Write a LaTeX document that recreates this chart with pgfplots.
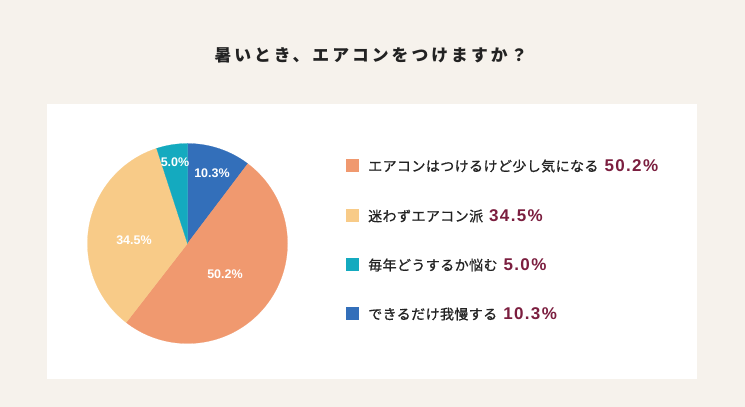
\documentclass[border=0pt]{standalone}
\usepackage{pgfplots}
\usepackage{pgfplotstable}
\pgfplotsset{compat=1.18}
\usepackage{fontspec}
\setmainfont{Noto Sans CJK JP}
\newfontfamily\titlefont{Noto Sans CJK JP}[LetterSpace=18]
\newfontfamily\jpfont{Noto Sans CJK JP}[LetterSpace=3, FakeBold=0.8]
\newfontfamily\pctfont{Liberation Sans}[LetterSpace=8]
\newfontfamily\labfont{Liberation Sans}
\definecolor{bgcream}{HTML}{F6F2EC}
\definecolor{slice0}{HTML}{336FBA}
\definecolor{slice1}{HTML}{F0996F}
\definecolor{slice2}{HTML}{F8CB88}
\definecolor{slice3}{HTML}{14AABF}
\definecolor{maroon}{HTML}{7B1E3F}
\definecolor{txt}{HTML}{222222}

\pgfplotstableread{
idx value
0 10.3
1 50.2
2 34.5
3 5.0
}\piedata

\begin{document}
\begin{tikzpicture}[x=1pt,y=1pt]
\fill[bgcream] (0,0) rectangle (745,407);
\fill[white] (47,28) rectangle (697,303);
\node[inner sep=0, text=txt] at (371,352) {\titlefont\bfseries\fontsize{16.8}{18}\selectfont 暑いとき、エアコンをつけますか？};

\begin{axis}[
  at={(187.5pt,163.5pt)}, anchor=center,
  width=200pt, height=200pt, scale only axis,
  xmin=-1, xmax=1, ymin=-1, ymax=1,
  hide axis, clip=false,
]
\gdef\cumA{90}
\pgfplotsforeachungrouped \i in {0,1,2,3} {
  \pgfplotstablegetelem{\i}{value}\of\piedata
  \pgfmathsetmacro\startA{\cumA}
  \pgfmathsetmacro\endA{\cumA - 3.6*\pgfplotsretval}
  \xdef\cumA{\endA}
  \edef\doplot{\noexpand\addplot[fill=slice\i, draw=slice\i, line width=0.2pt, domain=\endA:\startA, samples=90] ({cos(x)},{sin(x)}) -- (axis cs:0,0) -- cycle;}
  \doplot
}
\node[text=white, font=\labfont\bfseries\fontsize{12.5}{14}\selectfont] at (axis cs:0.245,0.705) {10.3\%};
\node[text=white, font=\labfont\bfseries\fontsize{12.5}{14}\selectfont] at (axis cs:0.375,-0.305) {50.2\%};
\node[text=white, font=\labfont\bfseries\fontsize{12.5}{14}\selectfont] at (axis cs:-0.535,0.035) {34.5\%};
\node[text=white, font=\labfont\bfseries\fontsize{12.5}{14}\selectfont] at (axis cs:-0.125,0.815) {5.0\%};
\end{axis}

% legend
\fill[slice1] (346,234.5) rectangle (359,247.5);
\fill[slice2] (346,184.5) rectangle (359,197.5);
\fill[slice3] (346,135.5) rectangle (359,148.5);
\fill[slice0] (346,86.5) rectangle (359,99.5);
\node[anchor=west, inner sep=0, text=txt] at (368,241) {\jpfont\fontsize{14}{16}\selectfont エアコンはつけるけど少し気になる\hspace{6pt}{\pctfont\bfseries\color{maroon}\fontsize{17}{18}\selectfont 50.2\%}};
\node[anchor=west, inner sep=0, text=txt] at (368,191) {\jpfont\fontsize{14}{16}\selectfont 迷わずエアコン派\hspace{6pt}{\pctfont\bfseries\color{maroon}\fontsize{17}{18}\selectfont 34.5\%}};
\node[anchor=west, inner sep=0, text=txt] at (368,142) {\jpfont\fontsize{14}{16}\selectfont 毎年どうするか悩む\hspace{6pt}{\pctfont\bfseries\color{maroon}\fontsize{17}{18}\selectfont 5.0\%}};
\node[anchor=west, inner sep=0, text=txt] at (368,93) {\jpfont\fontsize{14}{16}\selectfont できるだけ我慢する\hspace{6pt}{\pctfont\bfseries\color{maroon}\fontsize{17}{18}\selectfont 10.3\%}};
\end{tikzpicture}
\end{document}
